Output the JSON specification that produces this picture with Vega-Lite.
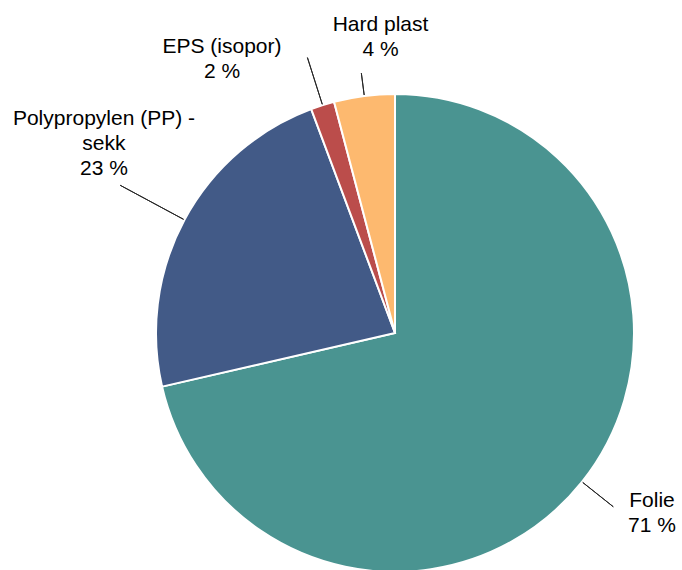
{
  "$schema": "https://vega.github.io/schema/vega-lite/v6.json",
  "width": 574,
  "height": 474,
  "autosize": {"type": "none"},
  "padding": {"left": 108, "top": 96, "right": 0, "bottom": 0},
  "background": "white",
  "config": {"view": {"stroke": null}},
  "data": {
    "values": [
      {"name": "Folie", "value": 71.4, "i": 1, "label": "Folie\n71 %"},
      {"name": "Polypropylen (PP) - sekk", "value": 22.9, "i": 2, "label": "Polypropylen (PP) -\nsekk\n23 %"},
      {"name": "EPS (isopor)", "value": 1.6, "i": 3, "label": "EPS (isopor)\n2 %"},
      {"name": "Hard plast", "value": 4.1, "i": 4, "label": "Hard plast\n4 %"}
    ]
  },
  "resolve": {"scale": {"theta": "independent"}},
  "layer": [
    {
      "mark": {"type": "arc", "outerRadius": 239, "stroke": "white", "strokeWidth": 2},
      "encoding": {
        "theta": {"field": "value", "type": "quantitative", "stack": true, "scale": {"domain": [0, 100]}},
        "color": {
          "field": "name", "type": "nominal", "legend": null,
          "scale": {
            "domain": ["Folie", "Polypropylen (PP) - sekk", "EPS (isopor)", "Hard plast"],
            "range": ["#4A9491", "#425A87", "#BB4D4B", "#FDB96F"]
          }
        },
        "order": {"field": "i", "type": "quantitative"}
      }
    },
    {
      "mark": {"type": "arc", "filled": false, "innerRadius": 240, "outerRadius": 279, "padAngle": 1.5, "stroke": "#262626", "strokeWidth": 1},
      "encoding": {
        "theta": {"field": "value", "type": "quantitative", "stack": true, "scale": {"domain": [0, 100], "range": [1.5291, 3.5291]}},
        "order": {"field": "i", "type": "quantitative"},
        "strokeOpacity": {"condition": {"test": "datum.name === 'Folie'", "value": 1}, "value": 0}
      }
    },
    {
      "mark": {"type": "arc", "filled": false, "innerRadius": 240, "outerRadius": 312, "padAngle": 1.5, "stroke": "#262626", "strokeWidth": 1},
      "encoding": {
        "theta": {"field": "value", "type": "quantitative", "stack": true, "scale": {"domain": [0, 100]}},
        "order": {"field": "i", "type": "quantitative"},
        "strokeOpacity": {"condition": {"test": "datum.name === 'Polypropylen (PP) - sekk'", "value": 1}, "value": 0}
      }
    },
    {
      "mark": {"type": "arc", "filled": false, "innerRadius": 240, "outerRadius": 289, "padAngle": 1.5, "stroke": "#262626", "strokeWidth": 1},
      "encoding": {
        "theta": {"field": "value", "type": "quantitative", "stack": true, "scale": {"domain": [0, 100]}},
        "order": {"field": "i", "type": "quantitative"},
        "strokeOpacity": {"condition": {"test": "datum.name === 'EPS (isopor)'", "value": 1}, "value": 0}
      }
    },
    {
      "mark": {"type": "arc", "filled": false, "innerRadius": 240, "outerRadius": 262, "padAngle": 1.5, "stroke": "#262626", "strokeWidth": 1},
      "encoding": {
        "theta": {"field": "value", "type": "quantitative", "stack": true, "scale": {"domain": [0, 100]}},
        "order": {"field": "i", "type": "quantitative"},
        "strokeOpacity": {"condition": {"test": "datum.name === 'Hard plast'", "value": 1}, "value": 0}
      }
    },
    {
      "mark": {"type": "text", "radius": 238, "dx": 70.8, "dy": 19.3, "font": "Liberation Sans", "fontSize": 21, "lineHeight": 25, "lineBreak": "\n", "align": "center", "baseline": "middle", "color": "#000000"},
      "encoding": {
        "theta": {"field": "value", "type": "quantitative", "stack": true, "scale": {"domain": [0, 100]}},
        "order": {"field": "i", "type": "quantitative"},
        "text": {"condition": {"test": "datum.name === 'Folie'", "field": "label", "type": "nominal"}, "value": ""}
      }
    },
    {
      "mark": {"type": "text", "radius": 238, "dx": -81.4, "dy": -101.1, "font": "Liberation Sans", "fontSize": 21, "lineHeight": 25, "lineBreak": "\n", "align": "center", "baseline": "middle", "color": "#000000"},
      "encoding": {
        "theta": {"field": "value", "type": "quantitative", "stack": true, "scale": {"domain": [0, 100]}},
        "order": {"field": "i", "type": "quantitative"},
        "text": {"condition": {"test": "datum.name === 'Polypropylen (PP) - sekk'", "field": "label", "type": "nominal"}, "value": ""}
      }
    },
    {
      "mark": {"type": "text", "radius": 238, "dx": -100.9, "dy": -59.5, "font": "Liberation Sans", "fontSize": 21, "lineHeight": 25, "lineBreak": "\n", "align": "center", "baseline": "middle", "color": "#000000"},
      "encoding": {
        "theta": {"field": "value", "type": "quantitative", "stack": true, "scale": {"domain": [0, 100]}},
        "order": {"field": "i", "type": "quantitative"},
        "text": {"condition": {"test": "datum.name === 'EPS (isopor)'", "field": "label", "type": "nominal"}, "value": ""}
      }
    },
    {
      "mark": {"type": "text", "radius": 238, "dx": 16.1, "dy": -72.3, "font": "Liberation Sans", "fontSize": 21, "lineHeight": 25, "lineBreak": "\n", "align": "center", "baseline": "middle", "color": "#000000"},
      "encoding": {
        "theta": {"field": "value", "type": "quantitative", "stack": true, "scale": {"domain": [0, 100]}},
        "order": {"field": "i", "type": "quantitative"},
        "text": {"condition": {"test": "datum.name === 'Hard plast'", "field": "label", "type": "nominal"}, "value": ""}
      }
    }
  ]
}
